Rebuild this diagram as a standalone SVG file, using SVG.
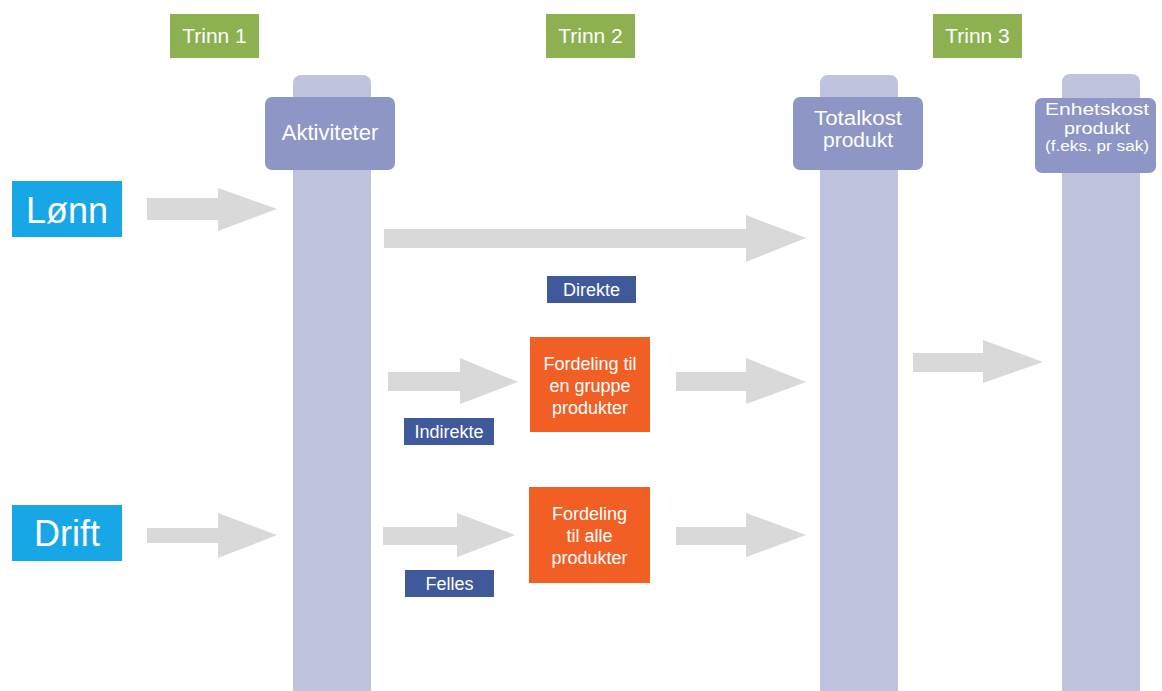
<svg xmlns="http://www.w3.org/2000/svg" width="1162" height="691" viewBox="0 0 1162 691">
<style>
text{font-family:"Liberation Sans",Arial,sans-serif;fill:#fff;text-anchor:middle}
.trinn{fill:#8db050}
.col{fill:#bfc3de}
.head{fill:#8d96c4}
.src{fill:#17a7e7}
.tag{fill:#40599b}
.org{fill:#f15f24}
.arr{fill:#d9d9d9}
.ot{font-size:18px}
.tt{font-size:18px}
</style>
<rect width="1162" height="691" fill="#fff"/>
<g id="trinn1"><rect class="trinn" x="170" y="14" width="89" height="44"/><text x="214.5" y="43" font-size="21">Trinn 1</text></g>
<g id="trinn2"><rect class="trinn" x="546" y="14" width="89" height="44"/><text x="590.5" y="43" font-size="21">Trinn 2</text></g>
<g id="trinn3"><rect class="trinn" x="933" y="14" width="89" height="44"/><text x="977.5" y="43" font-size="21">Trinn 3</text></g>

<g id="aktiviteter"><rect class="col" x="293" y="75" width="78" height="640" rx="8"/><rect class="head" x="265" y="97" width="130" height="73" rx="7"/><text x="330" y="140" font-size="22">Aktiviteter</text></g>
<g id="totalkost"><rect class="col" x="820" y="75" width="78" height="640" rx="8"/><rect class="head" x="793" y="97" width="130" height="73" rx="7"/><text x="858" y="125" font-size="19.5" textLength="88" lengthAdjust="spacingAndGlyphs">Totalkost</text><text x="858" y="147" font-size="19.5" textLength="70" lengthAdjust="spacingAndGlyphs">produkt</text></g>
<g id="enhetskost"><rect class="col" x="1062" y="74" width="78" height="640" rx="8"/><rect class="head" x="1035" y="98" width="121" height="75" rx="7"/><text x="1097" y="115" font-size="17" textLength="104" lengthAdjust="spacingAndGlyphs">Enhetskost</text><text x="1097" y="134" font-size="17" textLength="66" lengthAdjust="spacingAndGlyphs">produkt</text><text x="1097" y="151" font-size="14" textLength="104" lengthAdjust="spacingAndGlyphs">(f.eks. pr sak)</text></g>

<g id="lonn"><rect class="src" x="12" y="181" width="110" height="56"/><text x="67" y="223" font-size="36">Lønn</text></g>
<g id="drift"><rect class="src" x="12" y="505" width="110" height="56"/><text x="67" y="546" font-size="36">Drift</text></g>

<g id="direkte"><rect class="tag" x="547" y="276" width="89" height="27"/><text class="tt" x="591.5" y="296">Direkte</text></g>
<g id="indirekte"><rect class="tag" x="404" y="418" width="90" height="27"/><text class="tt" x="449" y="438">Indirekte</text></g>
<g id="felles"><rect class="tag" x="405" y="570" width="89" height="27"/><text class="tt" x="449.5" y="590">Felles</text></g>

<g id="fordeling-gruppe"><rect class="org" x="530" y="337" width="120" height="95"/><text class="ot" x="590" y="370">Fordeling til</text><text class="ot" x="590" y="392">en gruppe</text><text class="ot" x="590" y="414">produkter</text></g>
<g id="fordeling-alle"><rect class="org" x="529" y="487" width="121" height="96"/><text class="ot" x="589.5" y="520">Fordeling</text><text class="ot" x="589.5" y="542">til alle</text><text class="ot" x="589.5" y="564">produkter</text></g>

<g id="connectors">
<polygon class="arr" points="147,198 218,198 218,188 277,209 218,231 218,220 147,220"/>
<polygon class="arr" points="384,229 746,229 746,215 806,238 746,262 746,248 384,248"/>
<polygon class="arr" points="388,372 460,372 460,358 518,382 460,404 460,391 388,391"/>
<polygon class="arr" points="676,372 746,372 746,358 806,382 746,404 746,391 676,391"/>
<polygon class="arr" points="913,353 983,353 983,340 1043,362 983,383 983,372 913,372"/>
<polygon class="arr" points="147,528 218,528 218,513 277,535 218,558 218,543 147,543"/>
<polygon class="arr" points="383,527 457,527 457,513 515,535 457,557 457,545 383,545"/>
<polygon class="arr" points="676,527 746,527 746,513 806,535 746,557 746,545 676,545"/>
</g>
</svg>
